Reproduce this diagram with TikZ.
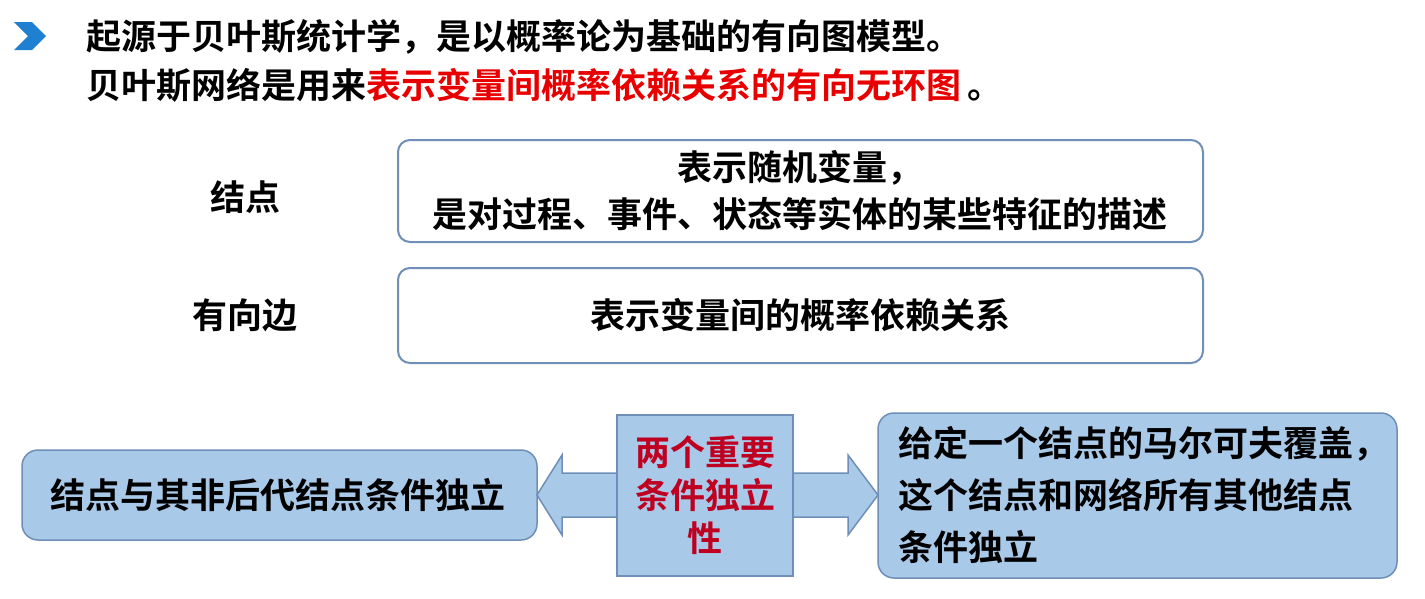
\documentclass[tikz,border=0pt]{standalone}
\usepackage{fontspec}
\setmainfont{Noto Sans CJK SC}[BoldFont={Noto Sans CJK SC Bold}]
\definecolor{bord}{HTML}{6F8FB8}
\definecolor{lb}{HTML}{A9C9E9}
\definecolor{rd}{HTML}{C00020}
\definecolor{rd2}{HTML}{E80000}
\definecolor{chev}{HTML}{1F7FD0}
\tikzset{
 wbox/.style={draw=bord,line width=2pt,rounded corners=12pt,fill=white},
 bbox/.style={draw=bord,line width=1.5pt,rounded corners=16pt,fill=lb},
 txt/.style={font=\fontsize{35}{40}\selectfont\bfseries,inner sep=0pt},
}
\begin{document}
\begin{tikzpicture}[x=1pt,y=-1pt]
\useasboundingbox (0,0) rectangle (1425,598);
\fill[chev] (14,22)--(32,22)--(46,36)--(32,50)--(14,50)--(28,36)--cycle;
\node[txt,anchor=west] (t1) at (86,37) {起源于贝叶斯统计学，是以概率论为基础的有向图模型。};
\node[txt,anchor=west] (t2) at (86,85) {贝叶斯网络是用来\textcolor{rd2}{表示变量间概率依赖关系的有向无环图}\,。};
\draw[wbox] (398,140) rectangle (1203,242);
\node[txt,align=center,font=\fontsize{35}{47}\selectfont\bfseries] (b1) at (800,191) {表示随机变量，\\是对过程、事件、状态等实体的某些特征的描述};
\node[txt] (l1) at (245,197) {结点};
\draw[wbox] (398,268) rectangle (1203,363);
\node[txt] (b2) at (800,315) {表示变量间的概率依赖关系};
\node[txt] (l2) at (245,315) {有向边};
\draw[bbox] (22,450) rectangle (537,540);
\node[txt] (lt) at (278,495) {结点与其非后代结点条件独立};
\draw[bbox] (878,413) rectangle (1397,578);
\node[txt,align=left,anchor=west,font=\fontsize{35}{52}\selectfont\bfseries] (rt) at (898,495) {给定一个结点的马尔可夫覆盖，\\这个结点和网络所有其他结点\\条件独立};
\draw[draw=bord,line width=1.5pt,fill=lb] (625,473)--(562,473)--(562,455)--(537,495)--(562,535)--(562,517)--(625,517);
\draw[draw=bord,line width=1.5pt,fill=lb] (785,473)--(848,473)--(848,455)--(878,495)--(848,535)--(848,517)--(785,517);
\draw[draw=bord,line width=1.5pt,fill=lb] (617,415) rectangle (793,576);
\node[txt,text=rd,align=center,font=\fontsize{35}{43}\selectfont\bfseries] (c) at (705,495) {两个重要\\条件独立\\性};
\end{tikzpicture}
\end{document}
